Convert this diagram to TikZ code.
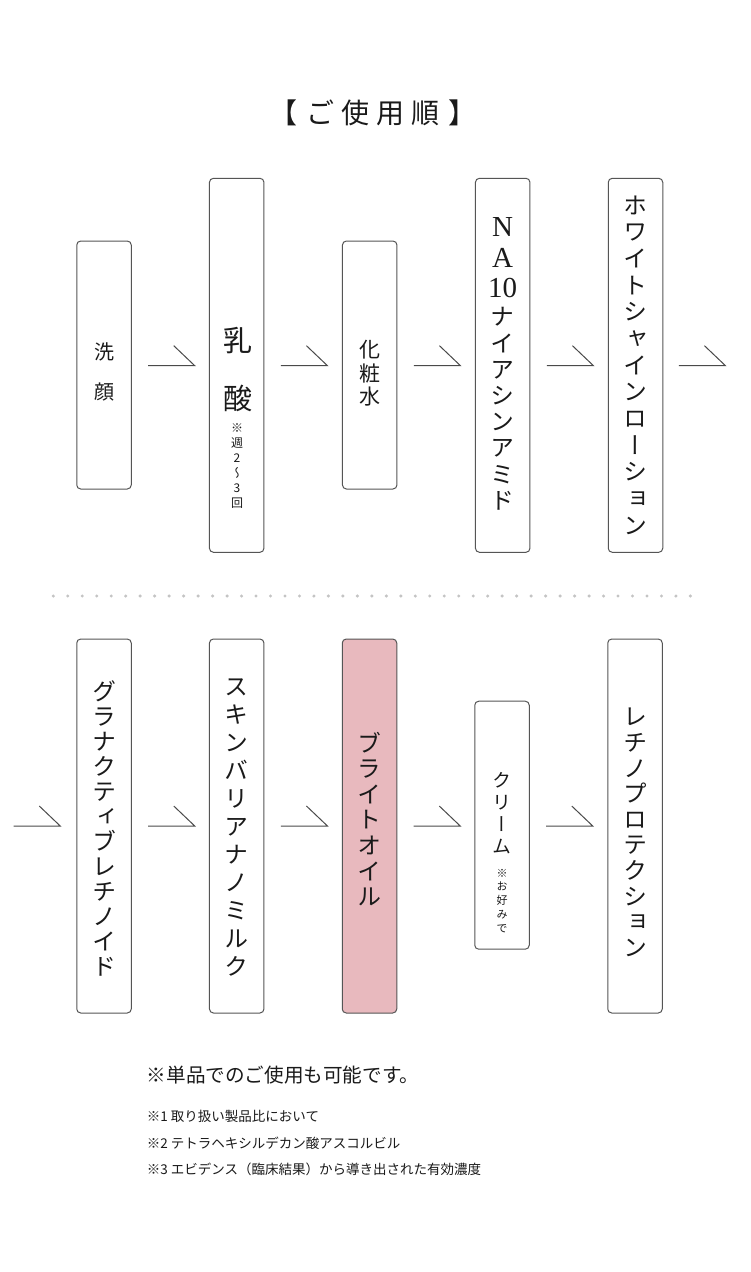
\documentclass[tikz,border=0pt]{standalone}
\usepackage{fontspec}
\setmainfont{Liberation Serif}
\newfontfamily\jp{Noto Sans CJK JP}
\newfontfamily\vjp[RawFeature=+vert]{Noto Sans CJK JP}
\newfontfamily\ser{Liberation Serif}
\usetikzlibrary{calc}
\definecolor{boxline}{HTML}{555555}
\definecolor{arrowline}{HTML}{4A4A4A}
\definecolor{pinkfill}{HTML}{E8B9BE}
\definecolor{dotc}{HTML}{C4C4C4}
\definecolor{ink}{HTML}{1A1A1A}
\tikzset{
  box/.style={draw=boxline, line width=1pt, rounded corners=4pt, minimum width=54.5pt, inner sep=0pt},
  tallbox/.style={box, minimum height=374pt},
  shortbox/.style={box, minimum height=248pt},
  vch/.style={inner sep=0pt, text=ink},
  flow/.style={draw=arrowline, line width=1pt},
}
\newcommand\vcol[6]{%
  \pgfmathsetmacro\vchh{0.88*#5}%
  \pgfmathsetmacro\vchd{0.12*#5}%
  \foreach \c [count=\i from 0] in {#6}{%
    \node[vch, text height=\vchh pt, text depth=\vchd pt, font=\vjp\fontsize{#5}{#5}\selectfont] (#1-\i) at (#2, {#3+\i*#4}) {\c};}}
\newcommand\flowmark[1]{\draw[flow] (#1) -- ++(46.7,0) -- ++(-21,-20);}
\begin{document}
\begin{tikzpicture}[x=1pt, y=-1pt]
\fill[white] (0,0) rectangle (750,1272);
\useasboundingbox (0,0) rectangle (750,1272);

% title
\node[font=\jp\fontsize{28}{28}\selectfont, anchor=base, text=ink, inner sep=0pt] (title) at (373.3,123) {【\hspace{9pt}ご\hspace{7pt}使\hspace{7pt}用\hspace{7pt}順\hspace{9pt}】};

% row 1 boxes
\node[shortbox] (b1) at (104,365) {};
\node[tallbox]  (b2) at (236.7,365.3) {};
\node[shortbox] (b3) at (369.7,365) {};
\node[tallbox]  (b4) at (502.7,365.3) {};
\node[tallbox]  (b5) at (635.5,365.3) {};

% row 2 boxes
\node[tallbox] (b6) at (104,826) {};
\node[tallbox] (b7) at (236.7,826) {};
\node[tallbox, fill=pinkfill] (b8) at (369.5,826) {};
\node[shortbox] (b9) at (502,825.2) {};
\node[tallbox] (b10) at (635,826) {};

% connectors
\coordinate (a1) at ($(b1.east)+(16.3,0.7)$);
\coordinate (a2) at ($(b2.east)+(16.3,0.4)$);
\coordinate (a3) at ($(b3.east)+(16.3,0.7)$);
\coordinate (a4) at ($(b4.east)+(16.3,0.4)$);
\coordinate (a5) at ($(b5.east)+(15.5,0.4)$);
\coordinate (a6) at ($(b6.west)+(-62.7,0)$);
\coordinate (a7) at ($(b6.east)+(16.3,0)$);
\coordinate (a8) at ($(b7.east)+(16.3,0)$);
\coordinate (a9) at ($(b8.east)+(16.3,0)$);
\coordinate (a10) at ($(b9.east)+(16.3,0.8)$);
\foreach \a in {a1,a2,a3,a4,a5,a6,a7,a8,a9,a10} {\flowmark{\a}}

% dotted separator
\foreach \k in {0,...,44} \fill[dotc] ({53.3+\k*14.48},596) circle (1.7);

% row 1 texts
\vcol{t1}{104}{351.7}{40}{20}{洗,顔}
\vcol{t2}{237.5}{340}{58}{29}{乳,酸}
\vcol{n2}{237}{428.3}{15}{12}{※,週,2,〜,3,回}
\vcol{t3}{369.7}{350}{23.3}{21}{化,粧,水}
\node[vch, font=\ser\fontsize{29}{29}\selectfont] (t4a) at (502.7,227.5) {N};
\node[vch, font=\ser\fontsize{29}{29}\selectfont] (t4b) at (502.7,258) {A};
\node[vch, font=\ser\fontsize{29}{29}\selectfont] (t4c) at (502.7,288) {10};
\vcol{t4}{502.7}{316.7}{26.2}{24}{ナ,イ,ア,シ,ン,ア,ミ,ド}
\vcol{t5}{635.5}{205}{26.67}{24}{ホ,ワ,イ,ト,シ,ャ,イ,ン,ロ,ー,シ,ョ,ン}

% row 2 texts
\vcol{t6}{104}{691.7}{25}{24}{グ,ラ,ナ,ク,テ,ィ,ブ,レ,チ,ノ,イ,ド}
\vcol{t7}{236.7}{686.7}{28}{24}{ス,キ,ン,バ,リ,ア,ナ,ノ,ミ,ル,ク}
\vcol{t8}{369.5}{743}{25.6}{24}{ブ,ラ,イ,ト,オ,イ,ル}
\vcol{t9}{502}{780}{22.2}{19}{ク,リ,ー,ム}
\vcol{n9}{502}{873}{13.75}{11}{※,お,好,み,で}
\vcol{t10}{635}{716.7}{25.6}{24}{レ,チ,ノ,プ,ロ,テ,ク,シ,ョ,ン}

% footnotes
\node[font=\jp\fontsize{19.6}{19.6}\selectfont, anchor=base west, inner sep=0pt, text=ink] (f0) at (146.7,1082.2) {※単品でのご使用も可能です。};
\node[font=\jp\fontsize{13.5}{13.5}\selectfont, anchor=base west, inner sep=0pt, text=ink] (f1) at (146.7,1121.8) {※1 取り扱い製品比において};
\node[font=\jp\fontsize{13.5}{13.5}\selectfont, anchor=base west, inner sep=0pt, text=ink] (f2) at (146.7,1148.4) {※2 テトラヘキシルデカン酸アスコルビル};
\node[font=\jp\fontsize{13.5}{13.5}\selectfont, anchor=base west, inner sep=0pt, text=ink] (f3) at (146.7,1174.4) {※3 エビデンス（臨床結果）から導き出された有効濃度};
\end{tikzpicture}
\end{document}
